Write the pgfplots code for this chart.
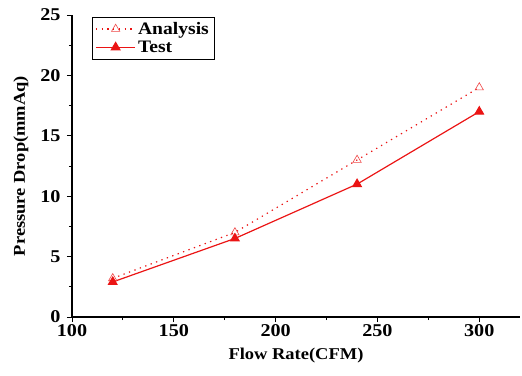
\documentclass[border=0pt]{standalone}
\usepackage{pgfplots}
\pgfplotsset{compat=1.18}
\usepackage{fontspec}
\setmainfont{Liberation Serif}[FakeStretch=1.12]
\definecolor{myred}{RGB}{235,20,20}
\begin{document}
\begin{tikzpicture}
\begin{axis}[
  scale only axis,
  width=448bp, height=302bp,
  xmin=100, xmax=320, ymin=0, ymax=25,
  axis x line*=bottom, axis y line*=left,
  axis line style={line width=1.1pt, -},
  xtick={100,150,200,250,300},
  ytick={0,5,10,15,20,25},
  minor tick num=1,
  tick align=outside,
  major tick length=5bp, minor tick length=3bp,
  tick style={line width=1pt, black},
  xticklabel={\pgfmathprintnumber[assume math mode=true]{\tick}},
  yticklabel={\pgfmathprintnumber[assume math mode=true]{\tick}},
  ticklabel style={font=\fontsize{18bp}{20bp}\selectfont\bfseries},
  yticklabel style={xshift=-3bp},
  xticklabel style={yshift=1bp},
  xlabel={Flow Rate(CFM)},
  ylabel={Pressure Drop(mmAq)},
  label style={font=\fontsize{16.5bp}{18bp}\selectfont\bfseries},
  xlabel style={yshift=-5bp},
  ylabel style={yshift=5bp},
  legend style={at={(0,1)}, anchor=north west, xshift=20bp, yshift=-2bp,
    draw=black, font=\fontsize{17.5bp}{19bp}\selectfont\bfseries,
    inner sep=3bp, row sep=1bp},
  legend cell align=left,
  legend image code/.code={\draw[mark repeat=2,mark phase=2,line width=1.2pt,myred] plot coordinates {(0cm,0cm) (0.7cm,0cm) (1.4cm,0cm)};},
  after end axis/.code={\path (rel axis cs:0,0) ++(-72bp,-59bp) (rel axis cs:1,1) ++(2bp,15bp);},
]
\addplot[myred, line width=1.2pt, dash pattern=on 1.3pt off 4.5pt, mark=triangle, mark size=4.8pt, mark options={solid, line width=0.6pt, draw=myred!80!white}]
  coordinates {(120,3.2) (180,7.0) (240,13.0) (300,19.0)};
\addlegendentry{Analysis}
\addplot[myred, line width=1.2pt, mark=triangle*, mark size=4.8pt, mark options={solid, fill=myred}]
  coordinates {(120,2.9) (180,6.5) (240,11.0) (300,17.0)};
\addlegendentry{Test}
\end{axis}
\end{tikzpicture}
\end{document}
